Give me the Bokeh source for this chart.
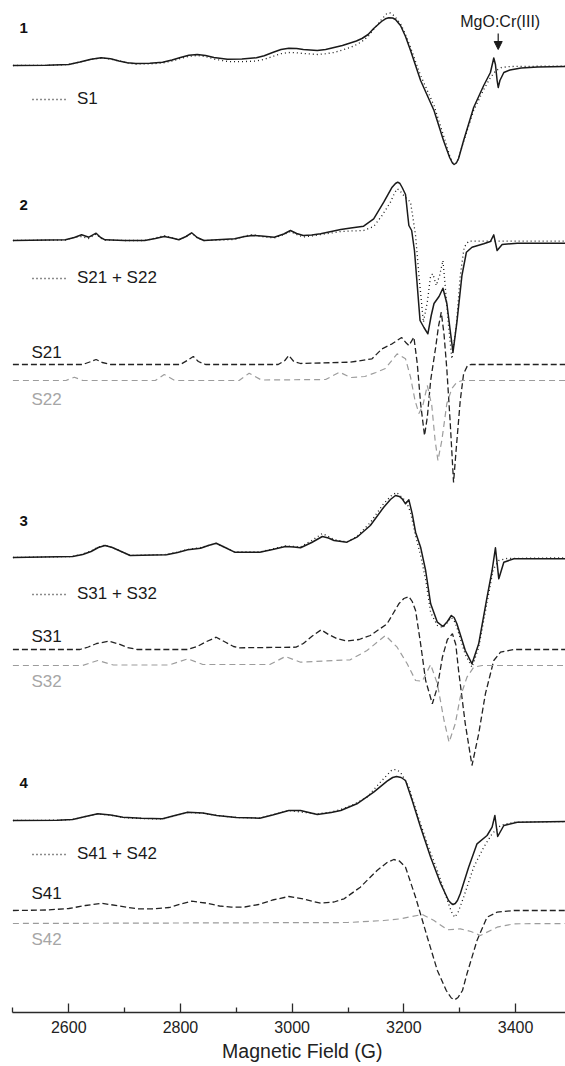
from bokeh.plotting import figure
from bokeh.models import (Range1d, FixedTicker, Label, Legend, LegendItem,
                          Arrow, NormalHead, Title)
from bokeh.embed import file_html
from bokeh.resources import INLINE

# ---------------------------------------------------------------------------
# Spectra (field in G, intensity in arbitrary units, baseline = 0)
# ---------------------------------------------------------------------------
# Sample 1: experiment and simulation S1
exp1_g = [2500, 2560, 2600, 2620, 2640, 2658, 2675, 2690, 2705, 2720, 2745, 2768,
          2785, 2800, 2815, 2830, 2845, 2860, 2884, 2910, 2936, 2950, 2965, 2980,
          2994, 3008, 3020, 3045, 3060, 3075, 3090, 3104, 3115, 3125, 3136, 3146,
          3160, 3167, 3173, 3180, 3185, 3194, 3203, 3212, 3230, 3254, 3271, 3282,
          3287, 3290, 3294, 3298, 3307, 3325, 3343, 3355, 3361, 3364, 3367, 3369,
          3372, 3379, 3390, 3410, 3440, 3489]
exp1_i = [0, 0.2, 1, 3.5, 6.3, 7.7, 6.8, 4.5, 2.8, 2, 2.2, 3.3,
          5.5, 8, 10.2, 11, 10, 8, 6.3, 6.5, 7.7, 9.8, 13, 16,
          17.3, 17, 16, 15, 16, 18, 20, 22.5, 24.5, 27, 31, 37,
          44, 46.7, 47.7, 47.5, 46, 40, 29, 15, -15, -45, -75, -92,
          -97.5, -99, -97.5, -93, -75, -42, -20, -7, 7.5, 1, -15, -22,
          -15, -7, -4.5, -2.5, -1.5, -1]
sim1_g = [2500, 2560, 2600, 2620, 2640, 2658, 2675, 2690, 2705, 2720, 2745, 2768,
          2785, 2800, 2815, 2830, 2845, 2860, 2884, 2910, 2936, 2950, 2965, 2980,
          2994, 3008, 3020, 3045, 3060, 3075, 3090, 3104, 3115, 3125, 3136, 3146,
          3160, 3170, 3176, 3182, 3194, 3203, 3212, 3230, 3254, 3271, 3282, 3287,
          3290, 3294, 3298, 3307, 3325, 3343, 3355, 3365, 3375, 3390, 3489]
sim1_i = [0, 0.2, 1, 3.5, 6.2, 7.5, 6.5, 4.5, 2.5, 1.5, 1.6, 2.5,
          4.5, 7, 9.2, 10, 9, 6.5, 4, 3.8, 4.5, 6.2, 9, 11.8,
          13, 12.7, 12, 11, 11.8, 13, 15.5, 18, 20.8, 24, 29, 36,
          46, 52.3, 52.5, 50, 42, 31, 18, -10, -40, -70, -90, -97,
          -99, -97, -93, -76, -45, -24, -12, -5, -2, -1, -0.5]

# Sample 2: experiment, S21 + S22, and the two components
exp2_g = [2500, 2594, 2610, 2623, 2636, 2649, 2657, 2665, 2700, 2736, 2755, 2771,
          2785, 2797, 2810, 2820, 2830, 2842, 2897, 2915, 2929, 2945, 2968, 2985,
          2997, 3008, 3020, 3035, 3051, 3070, 3087, 3105, 3128, 3146, 3164, 3179,
          3185, 3189, 3193, 3197, 3203, 3207, 3209, 3214, 3219, 3224, 3229, 3236,
          3243, 3249, 3254, 3263, 3270, 3277, 3283, 3288, 3295, 3304, 3312, 3322,
          3343, 3355, 3361, 3367, 3376, 3403, 3489]
exp2_i = [0, 0.7, 3, 5.7, 3.3, 7.3, 3, 0.7, 0, 0, 2, 4,
          2.5, 0.7, 4, 7.7, 3, 0, 1.7, 4, 5, 4.5, 3.3, 6.5,
          10, 7, 5, 5.5, 6.7, 9, 11, 12.5, 14.3, 21.7, 38.3, 53.3,
          57, 58.3, 57, 53, 46, 25, 15, 10, -10, -45, -80, -87,
          -93.3, -75, -63, -56, -47.7, -63, -90, -111.7, -81.7, -35, -11.7, -6.7,
          -3.3, -1, 5.7, -10, -4, -2.7, -2.7]
sim2_g = [2500, 2594, 2610, 2623, 2636, 2649, 2657, 2665, 2700, 2736, 2755, 2771,
          2785, 2797, 2810, 2820, 2830, 2842, 2897, 2915, 2929, 2945, 2968, 2985,
          2997, 3008, 3020, 3035, 3051, 3070, 3087, 3105, 3128, 3146, 3161, 3176,
          3183, 3188, 3193, 3197, 3205, 3212, 3217, 3221, 3227, 3235, 3242, 3248,
          3252, 3258, 3264, 3270, 3274, 3280, 3286, 3294, 3301, 3308, 3316, 3489]
sim2_i = [0, 0.5, 3.3, 4, 2, 6.5, 2.5, 0.5, 0, 0, 2.5, 5,
          2.5, 0.5, 4, 7.5, 2.5, 0, 1, 4.5, 6, 4, 2.5, 6,
          9, 6, 3.5, 4.5, 6, 7.5, 9, 9.5, 10, 14, 25, 38.3,
          47, 51.7, 50, 46.7, 42, 38.3, 20, 5, -35, -81.7, -61.7, -35,
          -33.3, -45, -35, -20, -45, -85, -118.3, -85, -35, -6.7, -0.7, -0.7]
s21_g = [2500, 2625, 2640, 2649, 2660, 2675, 2800, 2812, 2823, 2832, 2845, 2975,
         2987, 2994, 3003, 3015, 3104, 3143, 3161, 3179, 3196, 3203, 3209, 3218,
         3224, 3230, 3237, 3242, 3248, 3257, 3262, 3267, 3272, 3277, 3283, 3289,
         3294, 3301, 3307, 3314, 3320, 3489]
s21_i = [0, 0, 3, 5, 2, 0, 0, 4, 8, 3, 0, 0,
         4, 9, 3, 1, 2.3, 5.7, 15.7, 20.7, 27, 22.3, 19, 27.3,
         1, -39, -71, -52.7, -16, 17.3, 38, 52.3, 30, -5, -58, -118,
         -82.7, -36, -9.3, -1, 0, 0]
s22_g = [2500, 2595, 2610, 2625, 2755, 2771, 2790, 2905, 2923, 2945, 3060, 3085,
         3105, 3130, 3150, 3167, 3188, 3203, 3212, 3220, 3227, 3234, 3242, 3250,
         3256, 3261, 3268, 3277, 3286, 3295, 3305, 3489]
s22_i = [0, 0, 3.3, 0, 0, 6, 0, 0, 7.3, 0.5, 1, 8.3,
         3, 4, 8, 12, 26.7, 21.7, 3.3, -20, -33, -25, -5, -25,
         -60, -80, -60, -23, -8, -1.7, 0, 0]

# Sample 3
exp3_g = [2500, 2607, 2625, 2640, 2653, 2665, 2678, 2690, 2710, 2775, 2795, 2813,
          2836, 2850, 2864, 2880, 2897, 2942, 2965, 2988, 3003, 3015, 3035, 3054,
          3065, 3075, 3098, 3116, 3140, 3164, 3176, 3185, 3192, 3197, 3203, 3209,
          3215, 3221, 3230, 3239, 3248, 3260, 3270, 3278, 3285, 3290, 3295, 3310,
          3322, 3334, 3349, 3358, 3364, 3370, 3379, 3397, 3489]
exp3_i = [0, 1, 3, 6, 10, 12, 10, 7, 2, 2.7, 5, 7.7,
          9.3, 12, 14.3, 10, 5.3, 5.3, 8, 11, 10.5, 9.7, 15, 21,
          19.5, 17, 15.3, 20.3, 32, 50.3, 58, 62, 61, 58.7, 53.7, 57.7,
          43.7, 25.3, 10.3, -13, -46.3, -64.7, -69, -64, -58, -60, -66.3, -93,
          -106.3, -86.3, -39.7, -13, 9.7, -21.3, -4.7, -1.3, -1.3]
sim3_g = [2500, 2607, 2625, 2640, 2653, 2665, 2678, 2690, 2710, 2775, 2795, 2813,
          2836, 2850, 2864, 2880, 2897, 2942, 2965, 2988, 3003, 3015, 3035, 3054,
          3065, 3075, 3098, 3116, 3140, 3164, 3178, 3187, 3197, 3205, 3212, 3221,
          3230, 3239, 3248, 3260, 3270, 3278, 3285, 3290, 3295, 3310, 3322, 3334,
          3349, 3360, 3370, 3385, 3489]
sim3_i = [0, 1, 3.5, 6.5, 10.5, 12.5, 10, 7, 2, 3, 5.5, 8,
          10, 12, 14, 10, 5.5, 5.5, 8.5, 11.5, 11, 10.5, 17, 24,
          21, 18, 15.5, 21, 35, 54, 62, 65, 60, 55, 45, 22,
          2, -22, -55, -68, -70, -65, -60, -63, -70, -97, -109.7, -90,
          -45, -12, -3, -1, -0.3]
s31_g = [2500, 2620, 2635, 2650, 2672, 2690, 2705, 2723, 2813, 2830, 2845, 2864,
         2880, 2895, 2904, 3007, 3020, 3035, 3052, 3065, 3080, 3098, 3120, 3140,
         3170, 3191, 3200, 3209, 3215, 3221, 3230, 3239, 3251, 3260, 3269, 3278,
         3287, 3293, 3298, 3310, 3322, 3334, 3346, 3361, 3373, 3397, 3489]
s31_i = [0, 0, 2.5, 6, 8.3, 5.5, 2, 0, 0, 3, 7.5, 12.3,
         7.5, 3, 1.7, 2.3, 6, 13, 19.7, 15, 11, 8.5, 10, 14,
         25.7, 45.7, 51, 53, 48, 39, 5.7, -31, -54.3, -37.7, -7.7, 10,
         15.7, 5, -21, -74.3, -116, -84.3, -44.3, -11, -2.7, 0, 0]
s32_g = [2500, 2625, 2652, 2680, 2780, 2813, 2840, 2960, 2988, 3015, 3104, 3134,
         3167, 3188, 3206, 3221, 3233, 3248, 3260, 3272, 3281, 3292, 3301, 3313,
         3325, 3340, 3489]
s32_i = [0, 0, 5, 0.5, 0.5, 6.7, 1, 1, 9, 3.3, 5.7, 15,
         30, 18.3, 1.7, -15, -15.7, 1, -18.3, -55, -76.7, -58.3, -31.7, -11.7,
         -1.7, 0, 0]

# Sample 4
exp4_g = [2500, 2580, 2607, 2630, 2652, 2675, 2697, 2730, 2768, 2790, 2813, 2840,
          2865, 2900, 2942, 2965, 2994, 3015, 3045, 3070, 3087, 3116, 3146, 3170,
          3180, 3187, 3195, 3203, 3215, 3230, 3248, 3266, 3280, 3285, 3288, 3292,
          3296, 3301, 3316, 3331, 3349, 3358, 3363, 3368, 3379, 3403, 3489]
exp4_i = [0, 0.3, 1, 4, 6.7, 5.5, 3.3, 2.3, 1.7, 5, 8.3, 7.5,
          5, 3, 2.3, 5.5, 10, 10, 6, 8, 10, 16.7, 28.3, 39.3,
          43, 44, 43, 40, 20, -6.7, -36.7, -63.3, -80, -83, -84, -83,
          -80, -73.3, -46.7, -23.3, -15, -6.7, 5, -16, -5, -1.7, -1]
sim4_g = [2500, 2580, 2607, 2630, 2652, 2675, 2697, 2730, 2768, 2790, 2813, 2840,
          2865, 2900, 2942, 2965, 2994, 3015, 3045, 3070, 3087, 3110, 3134, 3158,
          3170, 3179, 3186, 3194, 3209, 3224, 3242, 3260, 3278, 3285, 3291, 3297,
          3307, 3325, 3343, 3358, 3373, 3397, 3489]
sim4_i = [0, 0.3, 1, 4, 6.5, 5.3, 3, 2, 1.5, 4.8, 8, 7.3,
          5, 3, 2.5, 5.5, 10, 8.5, 6.7, 8.5, 11, 16, 23.3, 38.3,
          45.5, 50.7, 51, 48.3, 33.3, 6.7, -23.3, -50, -80, -91, -96.7, -92,
          -76.7, -46.7, -26.7, -13.3, -5, -1.7, -1]
s41_g = [2500, 2560, 2600, 2630, 2659, 2690, 2723, 2750, 2780, 2800, 2820, 2845,
         2870, 2891, 2915, 2940, 2965, 2994, 3020, 3051, 3075, 3093, 3122, 3152,
         3170, 3182, 3192, 3203, 3221, 3242, 3260, 3276, 3285, 3291, 3297, 3305,
         3313, 3331, 3349, 3367, 3397, 3489]
s41_i = [0, 0.5, 2, 5, 7.3, 4.5, 1.7, 1.7, 3, 6.5, 9.3, 7.5,
         4.5, 3.3, 3.5, 6, 10.5, 14, 11.5, 7.3, 8.5, 11.7, 23.3, 40,
         48, 51, 49.5, 43.3, 13.3, -26.7, -60, -80, -87.5, -89.3, -87, -80,
         -63.3, -30, -6.7, -1.7, 0, 0]
s42_g = [2500, 3100, 3164, 3194, 3215, 3233, 3254, 3278, 3301, 3320, 3337, 3367,
         3397, 3489]
s42_i = [0, 1, 3, 4.7, 7, 9, 3, -6.3, -5.3, -8, -12, -3.7, -0.3, 0]

# Field axis
field_ticks = [2600, 2800, 3000, 3200, 3400]
field_minor = [2500, 2700, 2900, 3100, 3300, 3500]

# ---------------------------------------------------------------------------
# Layout constants (screen pixels)
# ---------------------------------------------------------------------------
W, H = 565, 1066
FRAME_H = 1012            # frame height; 1 y-unit = 1 px, y = -row
G0_PX = 12.4              # column where the field axis starts (2500 G)
PX_PER_G = 0.5585


def gx(px):
    """Screen column -> field value."""
    return 2500 + (px - G0_PX) / PX_PER_G


FONT = "Liberation Sans"
INK = "#1a1a1a"
GRAY = "#9c9c9c"

p = figure(width=W, height=H,
           x_range=Range1d(gx(0), gx(W)), y_range=Range1d(-FRAME_H, 0),
           output_backend="svg", toolbar_location=None, y_axis_location=None,
           min_border_left=0, min_border_right=0, min_border_top=0,
           min_border_bottom=H - FRAME_H)
p.grid.visible = False
p.outline_line_color = None
p.background_fill_color = "white"
p.border_fill_color = "white"

ax = p.xaxis[0]
ax.ticker = FixedTicker(ticks=field_ticks, minor_ticks=field_minor)
ax.bounds = (2500, 3500)
ax.axis_line_color = "#2a2a2a"
ax.axis_line_width = 1.3
ax.major_tick_in = 9
ax.major_tick_out = 0
ax.minor_tick_in = 5
ax.minor_tick_out = 0
ax.major_tick_line_color = "#2a2a2a"
ax.minor_tick_line_color = "#2a2a2a"
ax.major_tick_line_width = 1.3
ax.minor_tick_line_width = 1.3
ax.major_label_text_font = FONT
ax.major_label_text_font_size = "16px"
ax.major_label_text_color = "#222222"
ax.major_label_standoff = 8

p.add_layout(Title(text="Magnetic Field (G)", align="left", offset=221.6,
                   text_font=FONT, text_font_size="19.5px",
                   text_font_style="normal", text_color="#222222",
                   standoff=4), "below")


def trace(g, vals, base, **kw):
    return p.line(g, [v - base for v in vals], **kw)


solid = dict(line_color=INK, line_width=1.5, line_join="round")
dotted = dict(line_color=INK, line_width=1.3, line_dash="1 3")
dash_k = dict(line_color="#222222", line_width=1.3, line_dash="6 3")
dash_g = dict(line_color=GRAY, line_width=1.2, line_dash="6 4")

# panel baselines (screen rows)
panels = [
    dict(num="1", num_y=27, base=65, exp=(exp1_g, exp1_i), sim=(sim1_g, sim1_i),
         sim_label="S1", leg_y=99, comps=[]),
    dict(num="2", num_y=204, base=240, exp=(exp2_g, exp2_i), sim=(sim2_g, sim2_i),
         sim_label="S21 + S22", leg_y=278,
         comps=[("S21", s21_g, s21_i, 364, 352, dash_k, "#1a1a1a"),
                ("S22", s22_g, s22_i, 380, 399, dash_g, "#a6a6a6")]),
    dict(num="3", num_y=520, base=557, exp=(exp3_g, exp3_i), sim=(sim3_g, sim3_i),
         sim_label="S31 + S32", leg_y=594,
         comps=[("S31", s31_g, s31_i, 649, 636, dash_k, "#1a1a1a"),
                ("S32", s32_g, s32_i, 665, 681, dash_g, "#a6a6a6")]),
    dict(num="4", num_y=782, base=820, exp=(exp4_g, exp4_i), sim=(sim4_g, sim4_i),
         sim_label="S41 + S42", leg_y=854,
         comps=[("S41", s41_g, s41_i, 910, 893, dash_k, "#1a1a1a"),
                ("S42", s42_g, s42_i, 923, 939, dash_g, "#a6a6a6")]),
]

for pan in panels:
    for name, g, vals, base, lab_y, style, col in pan["comps"]:
        trace(g, vals, base, **style)
        p.add_layout(Label(x=gx(31), y=-lab_y, text=name, text_font=FONT,
                           text_font_size="17px", text_color=col,
                           text_align="left", text_baseline="middle"))
    r_sim = trace(*pan["sim"], pan["base"], **dotted)
    trace(*pan["exp"], pan["base"], **solid)

    p.add_layout(Label(x=gx(19), y=-pan["num_y"], text=pan["num"], text_font=FONT,
                       text_font_size="15px", text_font_style="bold",
                       text_color="#111111", text_align="left",
                       text_baseline="middle"))

    leg = Legend(items=[LegendItem(label=pan["sim_label"], renderers=[r_sim])],
                 location=(32, FRAME_H - (pan["leg_y"] + 10)),
                 orientation="vertical", padding=0, margin=0, spacing=0,
                 glyph_width=36, glyph_height=20, label_height=20,
                 label_standoff=9, label_text_font=FONT,
                 label_text_font_size="17px", label_text_color="#1a1a1a",
                 background_fill_alpha=0, border_line_color=None)
    p.add_layout(leg)

# reference marker
p.add_layout(Label(x=gx(499.7), y=-21.3, text="MgO:Cr(III)", text_font=FONT,
                   text_font_size="16px", text_color="#1a1a1a",
                   text_align="center", text_baseline="middle"))
p.add_layout(Arrow(end=NormalHead(size=8, fill_color=INK, line_color=INK),
                   x_start=gx(497.7), y_start=-33, x_end=gx(497.7), y_end=-49,
                   line_color=INK, line_width=1.2))

open("out.html", "w").write(file_html(p, INLINE))
